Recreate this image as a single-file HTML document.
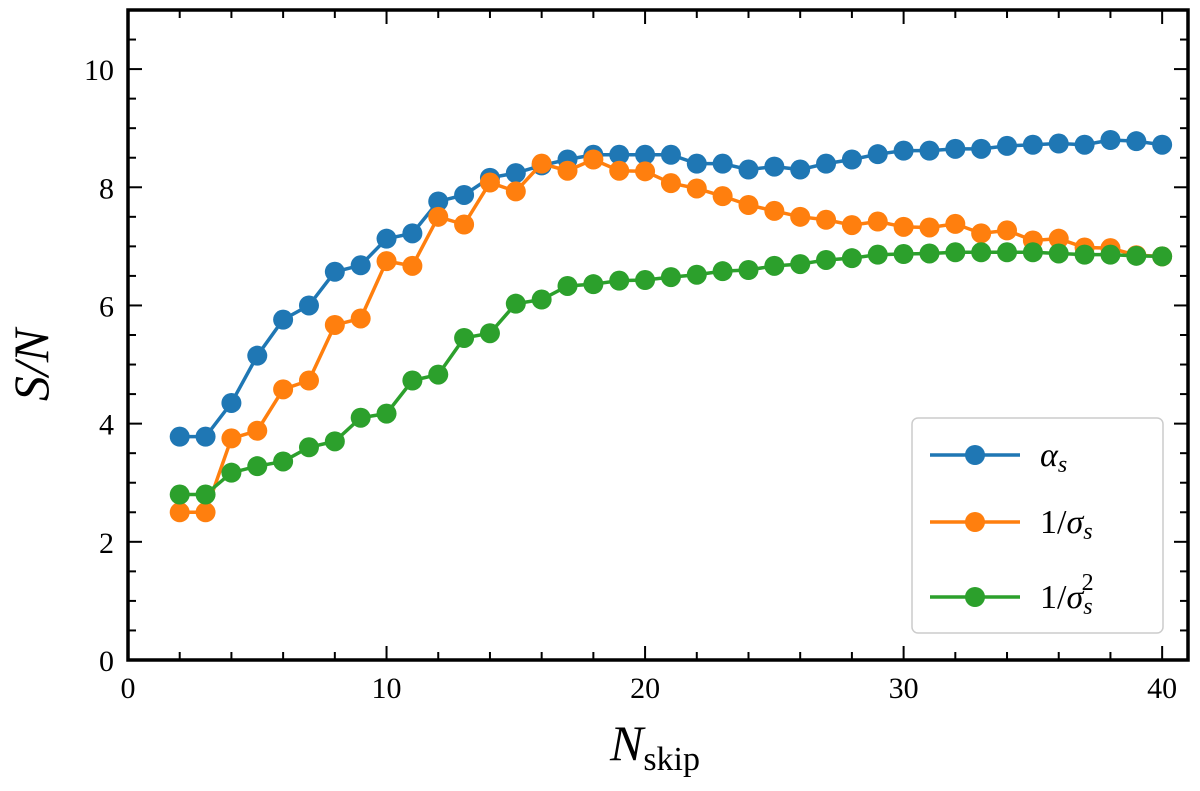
<!DOCTYPE html>
<html><head><meta charset="utf-8"><style>
body{margin:0;background:#fff}
svg{font-family:"Liberation Serif",serif}
</style></head><body>
<svg id="chart" width="1200" height="786" viewBox="0 0 1200 786" xmlns="http://www.w3.org/2000/svg">
<g id="plot"></g>
<text x="48" y="365" font-size="50" font-style="italic" text-anchor="middle" transform="rotate(-90 48 365)">S/N</text>
<text x="655" y="760" font-size="50" text-anchor="middle"><tspan font-style="italic">N</tspan><tspan font-size="34" dy="10">skip</tspan></text>
<g>
<rect x="912" y="418" width="251" height="215" rx="6" fill="#fff" fill-opacity="0.8" stroke="#ccc" stroke-width="1.5"/>
<g><line x1="930" y1="455" x2="1020" y2="455" stroke="#1f77b4" stroke-width="3.5"/><circle cx="975" cy="455" r="10" fill="#1f77b4"/><text x="1040" y="466" font-size="34" font-style="italic">α<tspan font-size="24" dy="6">s</tspan></text></g>
<g><line x1="930" y1="522" x2="1020" y2="522" stroke="#ff7f0e" stroke-width="3.5"/><circle cx="975" cy="522" r="10" fill="#ff7f0e"/><text x="1040" y="533" font-size="34">1/<tspan font-style="italic">σ</tspan><tspan font-size="24" dy="6" font-style="italic">s</tspan></text></g>
<g><line x1="930" y1="597" x2="1020" y2="597" stroke="#2ca02c" stroke-width="3.5"/><circle cx="975" cy="597" r="10" fill="#2ca02c"/><text x="1040" y="608" font-size="34">1/<tspan font-style="italic">σ</tspan><tspan font-size="24" dy="6" font-style="italic">s</tspan><tspan font-size="24" dx="-11" dy="-24">2</tspan></text></g>
</g>
</svg>
<script>
const xs=[2,3,4,5,6,7,8,9,10,11,12,13,14,15,16,17,18,19,20,21,22,23,24,25,26,27,28,29,30,31,32,33,34,35,36,37,38,39,40];
const alphaS=[3.78,3.78,4.35,5.15,5.76,6.0,6.57,6.68,7.13,7.22,7.76,7.87,8.16,8.24,8.37,8.47,8.55,8.55,8.55,8.55,8.4,8.4,8.3,8.35,8.3,8.4,8.47,8.56,8.62,8.62,8.65,8.65,8.7,8.72,8.74,8.72,8.8,8.78,8.72];
const invSigma=[2.5,2.5,3.75,3.88,4.58,4.73,5.67,5.78,6.75,6.67,7.5,7.37,8.08,7.93,8.4,8.28,8.47,8.28,8.27,8.07,7.98,7.85,7.7,7.6,7.5,7.45,7.36,7.42,7.33,7.32,7.38,7.22,7.27,7.1,7.13,6.98,6.97,6.85,6.83];
const invSigmaSq=[2.8,2.8,3.17,3.28,3.36,3.6,3.7,4.1,4.17,4.73,4.83,5.45,5.53,6.03,6.1,6.33,6.36,6.42,6.43,6.48,6.52,6.58,6.6,6.67,6.7,6.77,6.8,6.86,6.87,6.88,6.9,6.9,6.9,6.9,6.88,6.86,6.86,6.84,6.83];
const xTicks=[0,10,20,30,40];
const yTicks=[0,2,4,6,8,10];
const L=128,R=1188,T=10,B=660,XMAX=41,YMAX=11;
const sx=v=>L+v/XMAX*(R-L), sy=v=>B-v/YMAX*(B-T);
const NS="http://www.w3.org/2000/svg", g=document.getElementById('plot');
function mk(t,a){const e=document.createElementNS(NS,t);for(const k in a)e.setAttribute(k,a[k]);g.appendChild(e);return e;}
for(let v=0;v<=XMAX;v+=2){const big=v%10===0,len=big?14:8;const x=sx(v);
 const t1=mk('line',{x1:x,y1:B,x2:x,y2:B-len,stroke:'#000','stroke-width':2});
 
 const t2=mk('line',{x1:x,y1:T,x2:x,y2:T+len,stroke:'#000','stroke-width':2});
 }
for(let v=0;v<=YMAX;v+=0.5){const big=Math.abs(v%2)<1e-9,len=big?14:8;const y=sy(v);
 const t1=mk('line',{x1:L,y1:y,x2:L+len,y2:y,stroke:'#000','stroke-width':2});
 
 const t2=mk('line',{x1:R,y1:y,x2:R-len,y2:y,stroke:'#000','stroke-width':2});
 }
xTicks.forEach(v=>{const t=mk('text',{x:sx(v),y:B+38,'font-size':30,'text-anchor':'middle'});t.textContent=v;
 });
yTicks.forEach(v=>{const t=mk('text',{x:L-14,y:sy(v)+11,'font-size':30,'text-anchor':'end'});t.textContent=v;
 });
const series=[[alphaS,'#1f77b4','alpha-s'],[invSigma,'#ff7f0e','inv-sigma'],[invSigmaSq,'#2ca02c','inv-sigma-sq']];
series.forEach(([ys,c,n])=>{
 const p=mk('polyline',{points:xs.map((x,i)=>sx(x)+','+sy(ys[i])).join(' '),fill:'none',stroke:c,'stroke-width':3.5});
 
 xs.forEach((x,i)=>{const m=mk('circle',{cx:sx(x),cy:sy(ys[i]),r:10,fill:c});
  });
});
const f=mk('rect',{x:L,y:T,width:R-L,height:B-T,fill:'none',stroke:'#000','stroke-width':3.5});

</script>
</body></html>
